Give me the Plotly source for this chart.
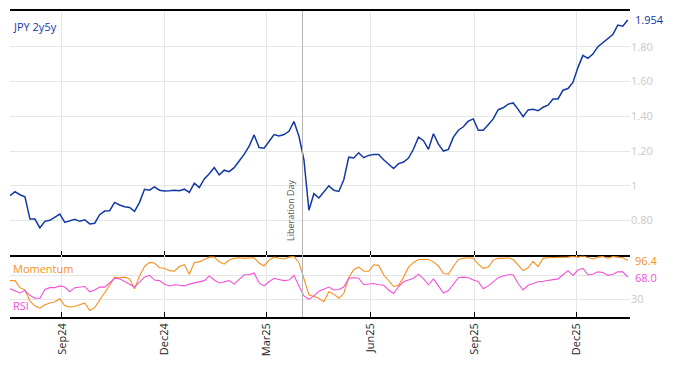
import pandas as pd
import plotly.graph_objects as go
from plotly.subplots import make_subplots

# Sampling dates (roughly every 3 business days)
dates = pd.date_range("2024-07-17", "2026-01-15", periods=125)

jpy_2y5y = [
    0.943, 0.967, 0.949, 0.937, 0.809, 0.809, 0.758, 0.796, 0.802, 0.819,
    0.838, 0.790, 0.800, 0.808, 0.796, 0.805, 0.781, 0.785, 0.834, 0.855,
    0.857, 0.905, 0.890, 0.880, 0.876, 0.853, 0.905, 0.980, 0.975, 0.994,
    0.975, 0.971, 0.972, 0.975, 0.972, 0.981, 0.962, 1.015, 0.990, 1.040,
    1.070, 1.105, 1.063, 1.090, 1.082, 1.105, 1.143, 1.181, 1.228, 1.293,
    1.220, 1.217, 1.255, 1.295, 1.287, 1.295, 1.314, 1.370, 1.285, 1.150,
    0.860, 0.955, 0.930, 0.965, 1.000, 0.975, 0.968, 1.035, 1.165, 1.160,
    1.190, 1.162, 1.175, 1.181, 1.180, 1.150, 1.125, 1.100, 1.128, 1.137,
    1.160, 1.212, 1.280, 1.260, 1.210, 1.300, 1.240, 1.200, 1.210, 1.280,
    1.320, 1.340, 1.372, 1.385, 1.320, 1.320, 1.352, 1.385, 1.438, 1.449,
    1.470, 1.477, 1.440, 1.398, 1.437, 1.440, 1.432, 1.452, 1.464, 1.500,
    1.500, 1.550, 1.560, 1.595, 1.680, 1.750, 1.733, 1.758, 1.800, 1.825,
    1.845, 1.870, 1.925, 1.918, 1.954,
]

momentum = [
    62, 62, 50, 46, 27, 19, 15, 21, 24, 26,
    31, 19, 17, 18, 21, 24, 11, 16, 29, 41,
    54, 68, 67, 68, 65, 48, 70, 86, 93, 92,
    84, 83, 79, 78, 86, 89, 73, 93, 94, 98,
    102, 102, 94, 90, 97, 100, 101, 100, 100, 101,
    92, 87, 97, 102, 100, 99, 102, 103, 93, 66,
    38, 35, 32, 26, 43, 39, 32, 40, 67, 81,
    85, 78, 78, 89, 88, 72, 61, 52, 54, 68,
    85, 93, 98, 98, 98, 94, 87, 74, 73, 86,
    98, 100, 101, 100, 90, 83, 85, 97, 100, 100,
    101, 98, 89, 79, 84, 95, 86, 100, 101, 101,
    101, 102, 102, 103, 102, 104, 102, 99, 102, 103,
    100, 103, 102, 101, 96.4,
]

rsi = [
    48, 44, 41, 45, 37, 32, 32, 47, 50, 50,
    53, 51, 43, 50, 51, 52, 43, 46, 51, 51,
    58, 66, 65, 61, 56, 51, 60, 68, 71, 63,
    62, 56, 53, 55, 54, 53, 56, 58, 61, 62,
    70, 63, 58, 60, 62, 56, 64, 72, 72, 75,
    58, 53, 60, 66, 64, 62, 63, 71, 53, 36,
    30, 36, 44, 47, 51, 46, 47, 51, 66, 67,
    66, 55, 56, 57, 55, 54, 46, 40, 52, 60,
    63, 66, 73, 65, 55, 65, 53, 41, 45, 56,
    67, 68, 67, 63, 60, 48, 53, 60, 67, 70,
    72, 72, 57, 46, 54, 57, 60, 61, 62, 63,
    65, 72, 79, 71, 80, 83, 72, 73, 77, 76,
    71, 73, 77, 77, 68.0,
]

event_date = "2025-04-02"
event_label = "Liberation Day"

top_ticks = [0.8, 1.0, 1.2, 1.4, 1.6, 1.8]
top_ticktext = ["0.80", "1", "1.20", "1.40", "1.60", "1.80"]
bottom_ticks = [30, 70]
bottom_ticktext = ["30", ""]

BLUE = "#1238a6"
ORANGE = "#f7901e"
MAGENTA = "#f64fd8"
GRID = "#e6e6e6"
TICKGRAY = "#c9c9c9"
FONT = "Open Sans"

fig = make_subplots(rows=2, cols=1, shared_xaxes=True, vertical_spacing=0,
                    row_heights=[0.7987, 0.2013])

fig.add_trace(go.Scatter(x=dates, y=jpy_2y5y, mode="lines",
                         line=dict(color=BLUE, width=1.5), name="JPY 2y5y"),
              row=1, col=1)
fig.add_trace(go.Scatter(x=dates, y=momentum, mode="lines",
                         line=dict(color=ORANGE, width=1.1), name="Momentum"),
              row=2, col=1)
fig.add_trace(go.Scatter(x=dates, y=rsi, mode="lines",
                         line=dict(color=MAGENTA, width=1.1), name="RSI"),
              row=2, col=1)

xr = ["2024-07-17", "2026-01-17"]
fig.update_xaxes(range=xr, dtick="M3", tick0="2024-09-01", tickformat="%b%y",
                 showgrid=True, gridcolor=GRID, gridwidth=1,
                 showline=True, linecolor="black", linewidth=1.5,
                 ticks="inside", ticklen=5, tickcolor="black",
                 zeroline=False)
fig.update_xaxes(showticklabels=False, mirror=True, row=1, col=1)
fig.update_xaxes(tickangle=-90, tickfont=dict(family=FONT, size=11, color="#222"),
                 row=2, col=1)

fig.update_yaxes(side="right", range=[0.6, 2.0057], tickvals=top_ticks,
                 ticktext=top_ticktext, showgrid=True, gridcolor=GRID,
                 zeroline=False, showline=False, ticks="",
                 tickfont=dict(family=FONT, size=11, color=TICKGRAY),
                 row=1, col=1)
fig.update_yaxes(side="right", range=[0, 105], tickvals=bottom_ticks,
                 ticktext=bottom_ticktext, showgrid=True, gridcolor=GRID,
                 zeroline=False, showline=False, ticks="",
                 tickfont=dict(family=FONT, size=11, color=TICKGRAY),
                 row=2, col=1)

fig.add_shape(type="line", xref="x", yref="paper", x0=event_date, x1=event_date,
              y0=0, y1=1, line=dict(color="#b4b4b4", width=1))

fig.add_annotation(x=event_date, y=0.669, xref="x", yref="y", text=event_label,
                   textangle=-90, showarrow=False, xanchor="right", yanchor="bottom",
                   xshift=-3, font=dict(family=FONT, size=9, color="#555"))

fig.add_annotation(x=0, y=1, xref="paper", yref="paper", text="JPY 2y5y",
                   showarrow=False, xanchor="left", yanchor="top", xshift=1, yshift=-6,
                   font=dict(family=FONT, size=11, color=BLUE))
fig.add_annotation(x=1, y=jpy_2y5y[-1], xref="paper", yref="y",
                   text=f"{jpy_2y5y[-1]:.3f}", showarrow=False,
                   xanchor="left", xshift=3, font=dict(family=FONT, size=11, color=BLUE))

fig.add_annotation(x=0, y=83, xref="paper", yref="y2", text="Momentum",
                   showarrow=False, xanchor="left", xshift=1,
                   font=dict(family=FONT, size=11, color=ORANGE))
fig.add_annotation(x=0, y=19, xref="paper", yref="y2", text="RSI",
                   showarrow=False, xanchor="left", xshift=1,
                   font=dict(family=FONT, size=11, color=MAGENTA))
fig.add_annotation(x=1, y=momentum[-1], xref="paper", yref="y2",
                   text=f"{momentum[-1]:.1f}", showarrow=False,
                   xanchor="left", xshift=3, font=dict(family=FONT, size=11, color=ORANGE))
fig.add_annotation(x=1, y=rsi[-1], xref="paper", yref="y2",
                   text=f"{rsi[-1]:.1f}", showarrow=False,
                   xanchor="left", xshift=3, font=dict(family=FONT, size=11, color=MAGENTA))

fig.update_layout(width=658, height=350, margin=dict(l=2, r=36, t=1, b=41),
                  plot_bgcolor="white", paper_bgcolor="white", showlegend=False,
                  font=dict(family=FONT))

fig.write_html("out.html")
